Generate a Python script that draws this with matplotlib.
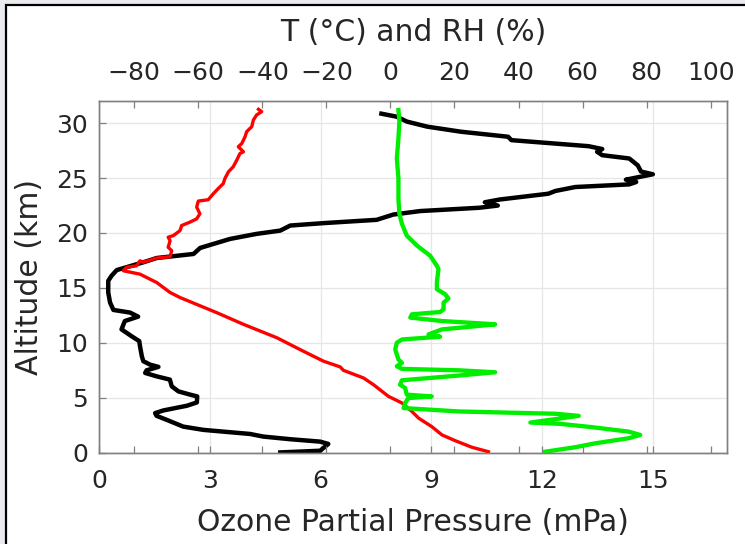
import matplotlib
matplotlib.use("Agg")
import matplotlib.pyplot as plt
from matplotlib.patches import Rectangle

# ozone partial pressure profile (mPa vs km)
ozone_mpa = [4.85, 5.99, 6.21, 5.99, 5.18, 4.45, 4.09, 3.37, 2.83, 2.28,
             1.83, 1.56, 1.52, 1.74, 2.38, 2.65, 2.66, 2.47, 2.15, 1.97,
             1.92, 1.56, 1.25, 1.29, 1.61, 1.38, 1.20, 1.16, 1.11, 1.09,
             0.88, 0.61, 0.70, 1.06, 0.84, 0.39, 0.30, 0.25, 0.25, 0.34,
             0.48, 0.66, 1.20, 1.56, 2.56, 2.74, 3.55, 4.27, 4.91, 5.18,
             6.08, 7.52, 7.97, 8.70, 10.30, 10.80, 10.45, 10.85, 12.17, 12.36,
             12.90, 14.36, 14.55, 14.27, 15.00, 14.68, 14.59, 14.36, 13.63, 13.49,
             13.63, 13.26, 11.17, 11.08, 9.80, 8.89, 8.34, 8.06, 7.59]
ozone_alt = [0.00, 0.16, 0.78, 0.99, 1.21, 1.45, 1.69, 1.90, 2.06, 2.36,
             2.98, 3.34, 3.59, 3.83, 4.26, 4.56, 5.11, 5.27, 5.57, 6.03,
             6.64, 6.94, 7.25, 7.49, 7.80, 8.01, 8.32, 8.77, 9.69, 10.15,
             10.60, 11.22, 11.98, 12.38, 12.75, 12.99, 13.66, 14.58, 15.64, 16.10,
             16.62, 16.80, 17.33, 17.72, 18.09, 18.64, 19.46, 19.92, 20.22, 20.68,
             20.90, 21.20, 21.68, 22.00, 22.30, 22.50, 22.80, 23.05, 23.58, 23.83,
             24.19, 24.43, 24.65, 24.86, 25.35, 25.60, 26.17, 26.79, 27.09, 27.40,
             27.65, 27.91, 28.46, 28.77, 29.23, 29.69, 30.15, 30.60, 30.91]

# temperature profile (deg C)
temp_c = [-41.2, -40.2, -41.8, -42.8, -43.3, -44.9, -45.4, -46.4, -47.5, -45.9,
          -47.0, -48.0, -49.1, -50.6, -51.7, -52.2, -53.8, -55.3, -56.9, -60.0,
          -60.5, -59.5, -60.5, -62.6, -65.2, -65.7, -67.8, -69.4, -68.8, -69.4,
          -68.3, -68.8, -73.0, -77.2, -78.2, -79.3, -82.4, -83.4, -78.2, -73.0,
          -68.8, -65.7, -54.3, -45.9, -35.5, -27.2, -20.9, -15.7, -14.7, -8.4,
          -5.3, -0.6, 3.6, 6.7, 8.8, 12.9, 16.1, 20.2, 25.4, 30.6]
temp_alt = [31.27, 31.06, 30.75, 30.29, 29.69, 29.23, 28.77, 28.16, 27.86, 27.40,
            27.24, 26.63, 26.03, 25.57, 24.95, 24.50, 24.04, 23.58, 23.03, 22.91,
            22.36, 21.75, 21.29, 20.99, 20.68, 20.22, 19.76, 19.62, 19.30, 18.70,
            18.39, 17.84, 17.72, 17.33, 17.47, 17.01, 16.87, 16.56, 16.25, 15.49,
            14.58, 14.12, 12.75, 11.68, 10.46, 9.23, 8.32, 7.80, 7.49, 6.79,
            6.18, 5.11, 4.51, 3.74, 3.13, 2.36, 1.60, 1.08, 0.48, 0.07]

# relative humidity profile (%)
rh_pct = [2.5, 2.8, 2.5, 2.0, 2.5, 2.5, 2.8, 3.6, 5.1, 8.3,
          12.4, 14.5, 15.0, 14.5, 14.5, 17.1, 18.1, 16.6, 16.6, 15.5,
          6.7, 6.2, 16.1, 32.7, 25.4, 16.1, 11.9, 15.5, 3.6, 2.0,
          1.5, 2.5, 3.6, 2.0, 3.6, 21.3, 32.7, 21.3, 3.6, 3.0,
          4.6, 5.1, 12.9, 5.6, 4.6, 4.1, 21.3, 51.5, 58.8, 51.5,
          43.7, 53.0, 62.9, 74.4, 78.0, 74.4, 64.0, 57.7, 48.3]
rh_alt = [31.21, 30.15, 28.62, 26.79, 24.95, 23.12, 21.75, 20.83, 19.76, 18.85,
          17.93, 17.01, 16.71, 15.49, 14.88, 14.42, 14.03, 13.66, 13.05, 12.80,
          12.59, 12.29, 11.98, 11.68, 11.47, 11.22, 10.76, 10.55, 10.30, 10.00,
          9.39, 8.47, 8.17, 7.86, 7.62, 7.49, 7.31, 7.01, 6.58, 6.18,
          5.88, 5.27, 5.11, 4.96, 4.51, 4.05, 3.74, 3.53, 3.34, 3.04,
          2.73, 2.61, 2.31, 1.90, 1.60, 1.30, 0.84, 0.48, 0.07]

ozone_ticks = [0, 3, 6, 9, 12, 15]
top_ticks = [-80, -60, -40, -20, 0, 20, 40, 60, 80, 100]
alt_ticks = [0, 5, 10, 15, 20, 25, 30]

plt.rcParams['font.family'] = ['DejaVu Sans']
txt = '#262626'
spine_col = '#808080'
tick_fs = 18
label_fs = 21.5

fig = plt.figure(figsize=(7.45, 5.44), dpi=100, facecolor='#e9ebee')
# white panel with a black frame, cut off at right and bottom
panel = Rectangle((6 / 745, -0.1), 1.2, 1 - 5 / 544 + 0.1,
                  transform=fig.transFigure, facecolor='white',
                  edgecolor='black', linewidth=1.6, zorder=-10)
fig.patches.append(panel)

ax = fig.add_axes([99 / 745, 1 - 452.5 / 544, (726.7 - 99) / 745, (452.5 - 101.3) / 544])
ax.set_facecolor('none')
ax.plot(ozone_mpa, ozone_alt, color='black', lw=3.2, solid_joinstyle='round',
        solid_capstyle='butt')
ax.set_xlim(0, 17)
ax.set_ylim(0, 32)
ax.set_xticks(ozone_ticks)
ax.set_yticks(alt_ticks)
ax.grid(True, color='#e6e6e6', lw=0.9)
ax.set_axisbelow(True)
ax.tick_params(axis='both', direction='in', length=5, width=0.9, color=spine_col,
               labelcolor=txt, labelsize=tick_fs)
ax.tick_params(axis='x', top=False, bottom=True, pad=12)
ax.tick_params(axis='y', left=True, right=False, pad=8)
ax.set_xlabel('Ozone Partial Pressure (mPa)', fontsize=label_fs, color=txt, labelpad=11)
ax.set_ylabel('Altitude (km)', fontsize=label_fs, color=txt, labelpad=9)

ax2 = ax.twiny()
ax2.plot(temp_c, temp_alt, color='#ff0000', lw=2.4, solid_joinstyle='round')
ax2.plot(rh_pct, rh_alt, color='#00ee00', lw=3.1, solid_joinstyle='round')
ax2.set_xlim(-91, 105)
ax2.set_xticks(top_ticks)
ax2.tick_params(axis='x', direction='in', length=5, width=0.9, color=spine_col,
                labelcolor=txt, labelsize=tick_fs, top=True, bottom=True,
                labeltop=True, labelbottom=False, pad=12)
ax2.set_xlabel('T (°C) and RH (%)', fontsize=label_fs, color=txt, labelpad=14)

for a in (ax, ax2):
    for s in a.spines.values():
        s.set_color(spine_col)
        s.set_linewidth(1.0)

fig.savefig('out.png', dpi=100, facecolor=fig.get_facecolor())
